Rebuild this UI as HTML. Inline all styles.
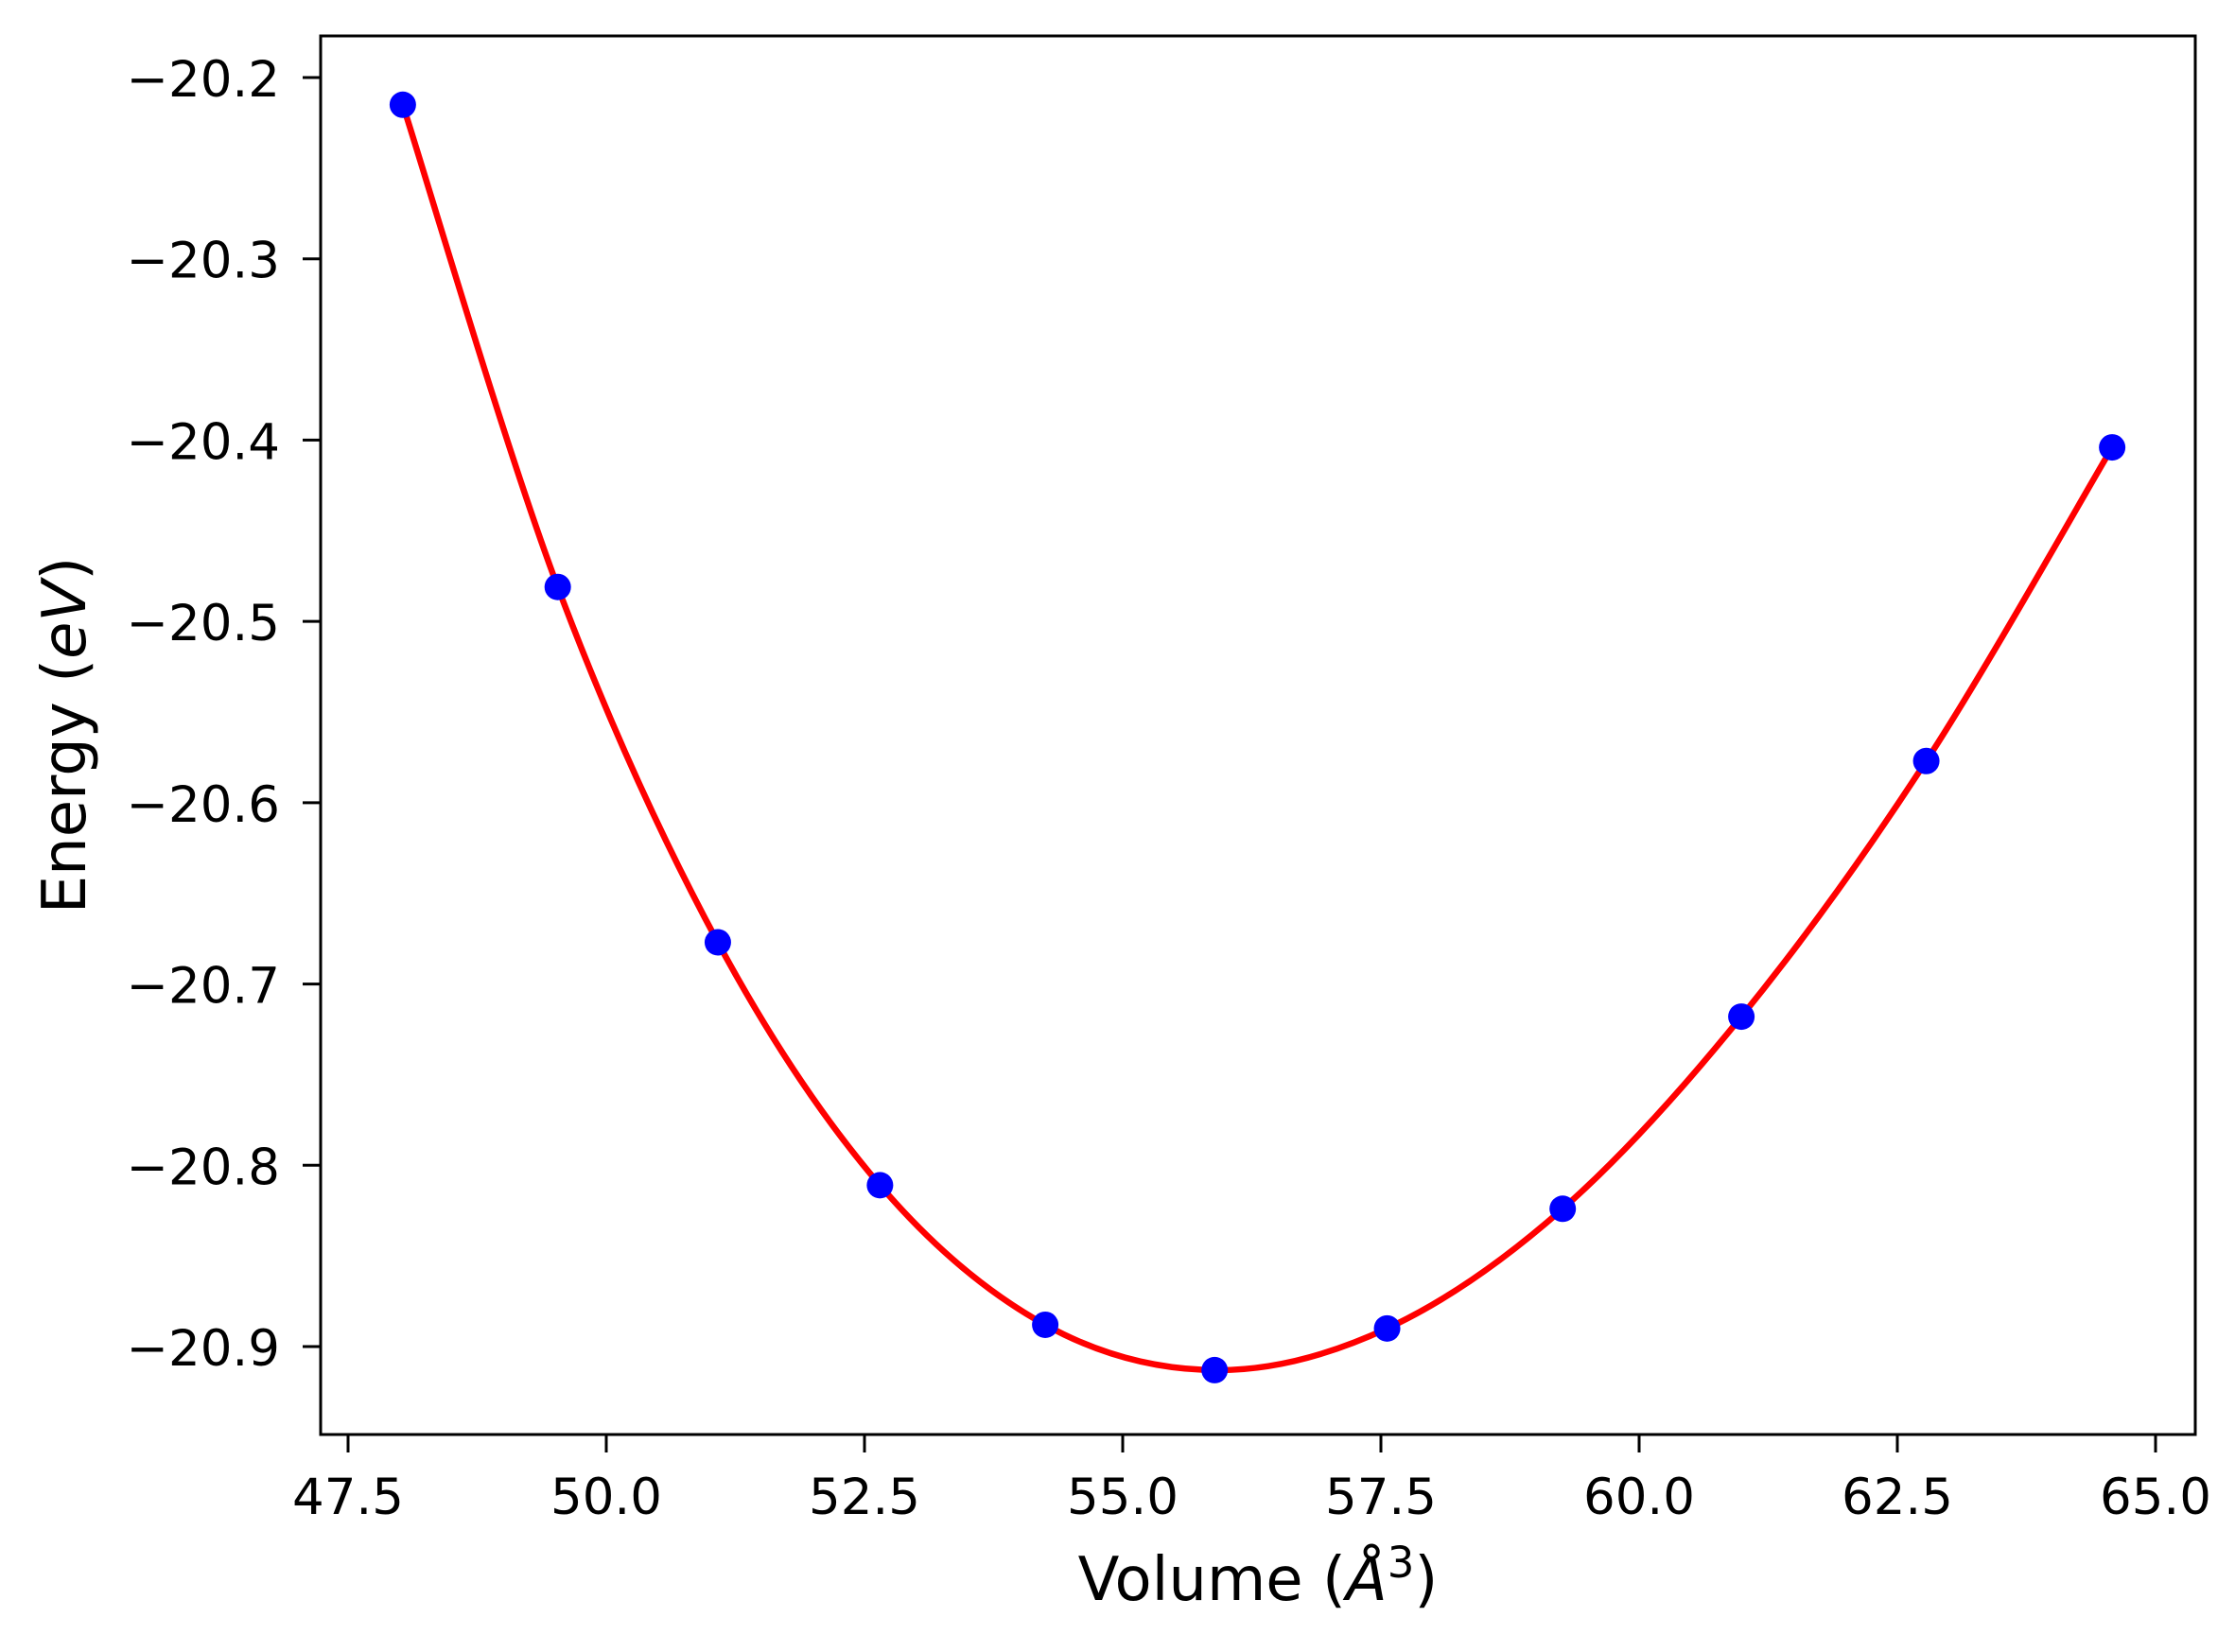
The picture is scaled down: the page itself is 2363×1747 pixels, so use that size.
<!DOCTYPE html>
<html><head><meta charset="utf-8">
<style>
html,body{margin:0;padding:0;background:#fff;}
svg{display:block;font-family:"DejaVu Sans","Liberation Sans",sans-serif;}
</style></head>
<body>
<svg id="chart" width="2363" height="1747" viewBox="0 0 2363 1747" xmlns="http://www.w3.org/2000/svg">
<rect width="2363" height="1747" fill="#fff"/>
<g id="plot"></g>
</svg>
<script>
const volumes = [48.03, 49.53, 51.08, 52.65, 54.25, 55.89, 57.56, 59.26, 60.99, 62.78, 64.58];
const energies = [-20.215, -20.481, -20.677, -20.811, -20.888, -20.913, -20.890, -20.824, -20.718, -20.577, -20.404];
const xTicks = [47.5, 50.0, 52.5, 55.0, 57.5, 60.0, 62.5, 65.0];
const yTicks = [-20.2, -20.3, -20.4, -20.5, -20.6, -20.7, -20.8, -20.9];

const L=339,R=2321,T=38,B=1517;
function xs(v){return 368+(v-47.5)*(2279-368)/17.5;}
function ys(e){return 82+(-20.2-e)*(1424-82)/0.7;}
const NS='http://www.w3.org/2000/svg';
const g=document.getElementById('plot');
function mk(tag,attrs,parent){const el=document.createElementNS(NS,tag);for(const k in attrs)el.setAttribute(k,attrs[k]);(parent||g).appendChild(el);return el;}

let d='M'+xs(volumes[0])+','+ys(energies[0]);
const P=volumes.map((v,i)=>[xs(v),ys(energies[i])]);
for(let i=0;i<P.length-1;i++){
  const p0=P[Math.max(i-1,0)],p1=P[i],p2=P[i+1],p3=P[Math.min(i+2,P.length-1)];
  const c1=[p1[0]+(p2[0]-p0[0])/6,p1[1]+(p2[1]-p0[1])/6];
  const c2=[p2[0]-(p3[0]-p1[0])/6,p2[1]-(p3[1]-p1[1])/6];
  d+=' C'+c1+' '+c2+' '+p2;
}
const curve=mk('path',{d:d,fill:'none',stroke:'#ff0000','stroke-width':6.5});



volumes.forEach((v,i)=>{
  const c=mk('circle',{cx:xs(v),cy:ys(energies[i]),r:14,fill:'#0000ff'});
  
  
});

const frame=mk('rect',{x:L,y:T,width:R-L,height:B-T,fill:'none',stroke:'#000','stroke-width':3});



xTicks.forEach(t=>{
  const x=xs(t);
  mk('line',{x1:x,y1:B,x2:x,y2:B+19,stroke:'#000','stroke-width':3});
  const tx=mk('text',{x:x,y:B+84,'text-anchor':'middle','font-size':53,fill:'#000'});
  tx.textContent=t.toFixed(1);
  
  
});
yTicks.forEach(t=>{
  const y=ys(t);
  mk('line',{x1:L,y1:y,x2:L-19,y2:y,stroke:'#000','stroke-width':3});
  const tx=mk('text',{x:L-43,y:y+20,'text-anchor':'end','font-size':53,fill:'#000'});
  tx.textContent='\u2212'+Math.abs(t).toFixed(1);
  
  
});

const xl=mk('text',{x:(L+R)/2,y:1692,'text-anchor':'middle','font-size':64,fill:'#000'});
xl.innerHTML='Volume (<tspan font-style="italic">Å</tspan><tspan dy="-24" font-size="45">3</tspan><tspan dy="24">)</tspan>';



const yl=mk('text',{x:0,y:0,'text-anchor':'middle','font-size':64,fill:'#000',transform:'translate(90,'+((T+B)/2)+') rotate(-90)'});
yl.innerHTML='Energy (<tspan font-style="italic">eV</tspan>)';


</script>
</body></html>
